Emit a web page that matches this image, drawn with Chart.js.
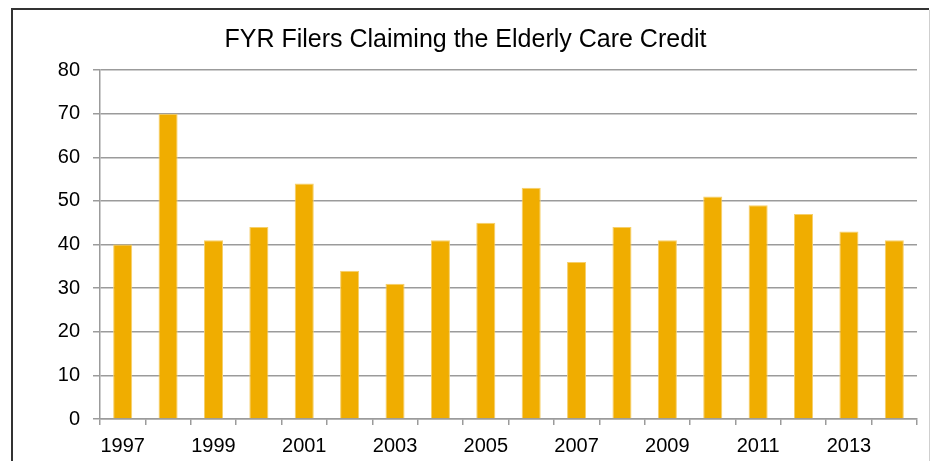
<!DOCTYPE html>
<html>
<head>
<meta charset="utf-8">
<title>FYR Filers Claiming the Elderly Care Credit</title>
<script src="https://cdn.jsdelivr.net/npm/chart.js@4/dist/chart.umd.min.js"></script>
<style>
  html, body { margin: 0; padding: 0; background: #fff; }
  #wrap { width: 930px; height: 461px; }
</style>
</head>
<body>
<div id="wrap"><canvas id="filersChart" width="930" height="461"></canvas></div>
<script>
// chart data
const chartTitle = "FYR Filers Claiming the Elderly Care Credit";
const years = ["1997", "1998", "1999", "2000", "2001", "2002", "2003", "2004", "2005",
               "2006", "2007", "2008", "2009", "2010", "2011", "2012", "2013", "2014"];
const filers = [40, 70, 41, 44, 54, 34, 31, 41, 45, 53, 36, 44, 41, 51, 49, 47, 43, 41];
const yTicks = [0, 10, 20, 30, 40, 50, 60, 70, 80];

const gridGrey = "#9b9b9b";
const fontFamily = "'Liberation Sans', Arial, sans-serif";

// outer frame like the excel chart border
const framePlugin = {
    id: "frame",
    afterDraw(chart) {
        const ctx = chart.ctx;
        ctx.save();
        ctx.lineWidth = 2;
        ctx.strokeStyle = "#333";
        ctx.beginPath();
        ctx.moveTo(12, 461);
        ctx.lineTo(12, 9);
        ctx.lineTo(929, 9);
        ctx.stroke();
        ctx.lineWidth = 1;
        ctx.strokeStyle = "#cfcfcf";
        ctx.beginPath();
        ctx.moveTo(929.5, 10);
        ctx.lineTo(929.5, 461);
        ctx.stroke();
        ctx.restore();
    }
};

const ctx = document.getElementById("filersChart").getContext("2d");
new Chart(ctx, {
    type: "bar",
    data: {
        labels: years,
        datasets: [{
            label: "Filers",
            data: filers,
            backgroundColor: "#F0AD00",
            borderColor: "#F6CF6A",
            borderWidth: 1,
            barPercentage: 0.42,
            categoryPercentage: 1.0,
        }],
    },
    options: {
        responsive: false,
        animation: false,
        layout: { padding: { left: 14, right: 13, top: 0, bottom: 0 } },
        plugins: {
            legend: { display: false },
            tooltip: { enabled: false },
            title: {
                display: true,
                text: chartTitle,
                color: "#000",
                font: { family: fontFamily, size: 25, weight: "normal", lineHeight: 1.2 },
                padding: { top: 25, bottom: 15 },
            },
        },
        scales: {
            x: {
                grid: {
                    display: true,
                    drawOnChartArea: false,
                    drawTicks: true,
                    tickLength: 6,
                    color: gridGrey,
                    lineWidth: 1.5,
                    offset: true,
                },
                border: { color: gridGrey, width: 1.5 },
                ticks: {
                    autoSkip: false,
                    maxRotation: 0,
                    padding: 9,
                    color: "#000",
                    font: { family: fontFamily, size: 20 },
                    callback: (value, index) => (index % 2 === 0 ? years[index] : ""),
                },
                afterFit: (scale) => { scale.height = 42; },
            },
            y: {
                min: yTicks[0],
                max: yTicks[yTicks.length - 1],
                afterBuildTicks: (scale) => { scale.ticks = yTicks.map((v) => ({ value: v })); },
                grid: {
                    color: gridGrey,
                    lineWidth: 1.5,
                    tickLength: 7,
                },
                border: { color: gridGrey, width: 1.5 },
                ticks: {
                    padding: 13,
                    color: "#000",
                    font: { family: fontFamily, size: 20 },
                },
                afterFit: (scale) => { scale.width = 86; },
            },
        },
    },
    plugins: [framePlugin],
});
</script>
</body>
</html>
